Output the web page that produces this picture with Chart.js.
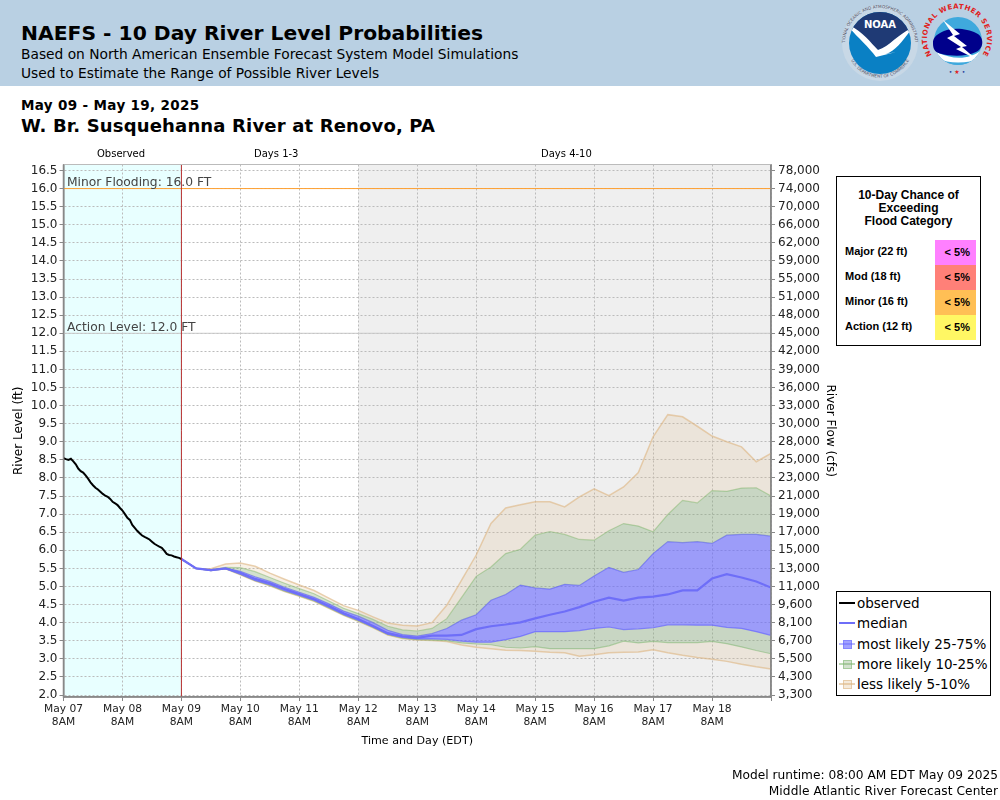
<!DOCTYPE html>
<html>
<head>
<meta charset="utf-8">
<title>NAEFS - 10 Day River Level Probabilities</title>
<script src="https://cdn.jsdelivr.net/npm/chart.js@4"></script>
<style>
  html, body { margin: 0; padding: 0; background: #fff; }
  body { width: 1000px; height: 800px; position: relative; overflow: hidden; font-family: "DejaVu Sans", sans-serif; color: #000; }
  .abs { position: absolute; white-space: nowrap; }
  #banner { left: 0; top: 0; width: 1000px; height: 86px; background: #b9d0e3; }
  #chart { position: absolute; left: 0; top: 0; }
  #flood { left: 836px; top: 176px; width: 143px; height: 168px; border: 1.5px solid #000; background: #fff; font-family: "Liberation Sans", Arial, sans-serif; font-weight: bold; }
  #floodTitle { position: absolute; left: 0; width: 100%; top: 12px; text-align: center; font-size: 12px; line-height: 13px; white-space: pre-line; }
  .floodLabel { position: absolute; left: 8px; font-size: 11px; line-height: 25px; }
  .floodCell { position: absolute; left: 98px; width: 41px; height: 25px; font-size: 11px; line-height: 24px; text-align: right; box-sizing: border-box; padding-right: 6px; }
  #legend { left: 835.5px; top: 591px; width: 153.5px; height: 103px; border: 1.5px solid #000; background: #fff; }
  .legendRow { position: absolute; left: 20.5px; font-size: 13.5px; line-height: 20px; }
  .legendLine { position: absolute; left: 2px; width: 16px; height: 2px; }
  .legendBox { position: absolute; left: 6px; width: 7px; height: 7px; border: 1px solid; }
</style>
</head>
<body>
<div id="banner" class="abs"></div>
<div class="abs" style="left:21px;top:21px;font-size:20.3px;font-weight:bold;">NAEFS - 10 Day River Level Probabilities</div>
<div class="abs" style="left:21px;top:46px;font-size:13.77px;">Based on North American Ensemble Forecast System Model Simulations</div>
<div class="abs" style="left:21px;top:65px;font-size:13.77px;">Used to Estimate the Range of Possible River Levels</div>
<div class="abs" style="left:21px;top:97px;font-size:13.5px;font-weight:bold;letter-spacing:.35px;">May 09 - May 19, 2025</div>
<div class="abs" style="left:21px;top:115px;font-size:18px;font-weight:bold;letter-spacing:.16px;">W. Br. Susquehanna River at Renovo, PA</div>

<svg class="abs" style="left:840px;top:0" width="80" height="86" viewBox="0 0 80 86">
  <defs>
    <path id="noaaTop" d="M5 43 A35 35 0 0 1 75 43"/>
    <path id="noaaBottom" d="M9 56 A33 33 0 0 0 71 56"/>
    <clipPath id="noaaClip"><circle cx="40" cy="43" r="31"/></clipPath>
  </defs>
  <circle cx="40" cy="43" r="38" fill="#c8d8e6"/>
  <circle cx="40" cy="43" r="31" fill="#0a80c4"/>
  <g clip-path="url(#noaaClip)">
    <path d="M5 5 H75 V30 C60 30 50 48 38 50 C30 46 22 32 5 26 Z" fill="#1f3a75"/>
    <path d="M6 24 C22 30 30 42 38 50 C50 46 58 34 72 28 C62 42 56 50 46 54 L56 52 L36 57 C28 46 16 36 6 24 Z" fill="#fff"/>
  </g>
  <text x="40" y="28" text-anchor="middle" font-size="10" font-weight="bold" fill="#fff" font-family="DejaVu Sans">NOAA</text>
  <text font-size="4.2" fill="#556" font-family="DejaVu Sans"><textPath href="#noaaTop" startOffset="50%" text-anchor="middle">NATIONAL OCEANIC AND ATMOSPHERIC ADMINISTRATION</textPath></text>
  <text font-size="4.2" fill="#556" font-family="DejaVu Sans"><textPath href="#noaaBottom" startOffset="50%" text-anchor="middle">U.S. DEPARTMENT OF COMMERCE</textPath></text>
</svg>
<svg class="abs" style="left:920px;top:0" width="80" height="86" viewBox="0 0 80 86">
  <defs>
    <path id="nwsRing" d="M14 58 A30 30 0 1 1 60 58"/>
    <clipPath id="nwsClip"><circle cx="38" cy="41" r="24"/></clipPath>
  </defs>
  <circle cx="38" cy="41" r="24" fill="#3fa9dd"/>
  <g clip-path="url(#nwsClip)">
    <path d="M12 56 H64 V66 H12 Z" fill="#3fa9dd"/>
    <path d="M16 52 C34 60 48 60 62 50 L62 58 C46 64 30 64 16 58 Z" fill="#fff"/>
  </g>
  <path d="M13 44 C12 36 20 33 24 31 C34 27 48 29 56 33 C64 36 65 48 56 52 C46 57 30 56 22 54 C16 53 13 50 13 44 Z" fill="#00008b"/>
  <path d="M23 20 L40 34 L34 36 L47 46 L42 47 L56 59 L36 49 L41 47 L27 38 L33 35 Z" fill="#fff"/>
  <text font-size="7" font-weight="bold" fill="#e02020" font-family="DejaVu Sans" letter-spacing=".5"><textPath href="#nwsRing" startOffset="50%" text-anchor="middle">NATIONAL WEATHER SERVICE</textPath></text>
  <text x="37" y="74" text-anchor="middle" font-size="6" font-family="DejaVu Sans"><tspan fill="#1f3a9a">•</tspan><tspan fill="#e02020" dx="2">★</tspan><tspan fill="#1f3a9a" dx="2">•</tspan></text>
</svg>

<canvas id="chart" width="1000" height="800" style="width:1000px;height:800px"></canvas>

<div class="abs" style="left:97px;top:148px;font-size:10px;">Observed</div>
<div class="abs" style="left:254px;top:148px;font-size:10px;">Days 1-3</div>
<div class="abs" style="left:541px;top:148px;font-size:10px;">Days 4-10</div>

<div id="flood" class="abs"><div id="floodTitle"></div></div>
<div id="legend" class="abs"></div>

<div class="abs" style="right:2px;top:768px;font-size:12.2px;">Model runtime: 08:00 AM EDT May 09 2025</div>
<div class="abs" style="right:2px;top:784px;font-size:12.2px;letter-spacing:.08px;">Middle Atlantic River Forecast Center</div>

<script>
const observedHours = [0,1,2,3,4,5,6,7,8,9,10,11,12,13,14,15,16,17,18,19,20,21,22,23,24,25,26,27,28,29,30,31,32,33,34,35,36,37,38,39,40,41,42,43,44,45,46,47,48];
const observed = [8.55,8.52,8.50,8.53,8.46,8.38,8.26,8.19,8.15,8.07,7.98,7.88,7.80,7.73,7.68,7.62,7.56,7.51,7.48,7.42,7.34,7.30,7.25,7.17,7.10,7.00,6.90,6.84,6.70,6.62,6.54,6.47,6.41,6.37,6.34,6.30,6.24,6.18,6.14,6.10,6.07,5.99,5.90,5.87,5.86,5.83,5.81,5.79,5.76];

const forecastHours = [48,54,60,66,72,78,84,90,96,102,108,114,120,126,132,138,144,150,156,162,168,174,180,186,192,198,204,210,216,222,228,234,240,246,252,258,264,270,276,282,288];
const p95 = [5.76,5.50,5.49,5.62,5.65,5.56,5.37,5.20,5.04,4.89,4.68,4.47,4.34,4.16,3.99,3.93,3.91,4.00,4.48,5.17,5.87,6.74,7.17,7.26,7.34,7.34,7.20,7.48,7.70,7.51,7.75,8.15,9.14,9.75,9.69,9.43,9.16,9.00,8.86,8.45,8.68];
const p90 = [5.76,5.50,5.47,5.53,5.52,5.41,5.25,5.09,4.94,4.80,4.60,4.40,4.25,4.09,3.90,3.80,3.77,3.84,4.11,4.69,5.28,5.54,5.91,6.03,6.42,6.52,6.44,6.30,6.28,6.54,6.74,6.67,6.51,6.99,7.38,7.31,7.65,7.63,7.72,7.73,7.50];
const p75 = [5.76,5.50,5.46,5.51,5.42,5.27,5.14,4.98,4.84,4.70,4.52,4.32,4.18,4.00,3.79,3.67,3.63,3.70,3.84,4.07,4.22,4.62,4.78,5.04,4.96,4.93,5.06,5.03,5.29,5.53,5.39,5.47,5.91,6.24,6.21,6.24,6.19,6.42,6.44,6.44,6.39];
const median = [5.76,5.50,5.45,5.50,5.38,5.21,5.09,4.93,4.79,4.65,4.46,4.26,4.10,3.91,3.71,3.62,3.58,3.64,3.64,3.66,3.82,3.90,3.95,4.01,4.12,4.22,4.31,4.43,4.58,4.69,4.61,4.69,4.72,4.78,4.89,4.89,5.22,5.34,5.25,5.14,4.97];
const p25 = [5.76,5.50,5.44,5.49,5.34,5.17,5.05,4.89,4.76,4.62,4.43,4.23,4.07,3.88,3.68,3.59,3.55,3.55,3.54,3.49,3.46,3.46,3.53,3.62,3.75,3.75,3.75,3.78,3.84,3.88,3.81,3.83,3.86,3.94,3.94,3.93,3.93,3.87,3.84,3.75,3.65];
const p10 = [5.76,5.50,5.44,5.49,5.33,5.16,5.03,4.87,4.74,4.60,4.41,4.21,4.05,3.87,3.67,3.57,3.53,3.52,3.50,3.44,3.41,3.39,3.32,3.30,3.34,3.28,3.28,3.28,3.28,3.36,3.49,3.44,3.48,3.45,3.45,3.45,3.48,3.42,3.33,3.23,3.14];
const p5 = [5.76,5.50,5.44,5.49,5.32,5.15,5.02,4.86,4.73,4.59,4.40,4.20,4.04,3.86,3.66,3.56,3.52,3.51,3.48,3.38,3.32,3.28,3.24,3.23,3.21,3.18,3.17,3.07,3.11,3.17,3.18,3.19,3.25,3.17,3.10,3.04,2.99,2.93,2.85,2.78,2.72];

const levelTicks = [2,2.5,3,3.5,4,4.5,5,5.5,6,6.5,7,7.5,8,8.5,9,9.5,10,10.5,11,11.5,12,12.5,13,13.5,14,14.5,15,15.5,16,16.5];
const flowLabels = ["3,300","4,300","5,500","6,700","8,100","9,600","11,000","13,000","15,000","17,000","19,000","21,000","23,000","25,000","28,000","30,000","33,000","36,000","39,000","42,000","45,000","48,000","51,000","55,000","59,000","62,000","66,000","70,000","74,000","78,000"];
const hourTicks = [0,24,48,72,96,120,144,168,192,216,240,264,288];
const dayLabels = ["May 07","May 08","May 09","May 10","May 11","May 12","May 13","May 14","May 15","May 16","May 17","May 18"];

const floodNames = ["Major (22 ft)","Mod (18 ft)","Minor (16 ft)","Action (12 ft)"];
const floodChances = ["< 5%","< 5%","< 5%","< 5%"];
const floodColors = ["#ff80ff","#ff8078","#ffbf55","#fff764"];

const TAN_FILL = "rgba(222,184,135,0.2)", TAN_EDGE = "rgba(222,184,135,0.65)";
const GREEN_FILL = "rgba(130,170,115,0.35)", GREEN_EDGE = "rgba(130,185,115,0.55)";
const BLUE_FILL = "rgba(100,100,255,0.6)", BLUE_EDGE = "rgba(100,100,255,0.7)";
const MEDIAN_COLOR = "#6e6ef8";

// x is hours since May 07 8AM
function toPoints(hours, values) {
  return values.map((v, i) => ({ x: hours[i], y: v }));
}

function band(label, values, edge, width, fillColor) {
  return {
    label,
    data: toPoints(forecastHours, values),
    borderColor: edge,
    borderWidth: width,
    backgroundColor: fillColor || "transparent",
    fill: fillColor ? "+1" : false,
    pointRadius: 0,
    tension: 0
  };
}

// shaded day regions, level lines and their captions
const decorations = {
  id: "decorations",
  beforeDatasetsDraw(chart) {
    const { ctx, chartArea: a, scales: { x } } = chart;
    ctx.save();
    ctx.globalCompositeOperation = "destination-over";
    ctx.fillStyle = "#e8ffff";
    ctx.fillRect(x.getPixelForValue(0), a.top, x.getPixelForValue(48) - x.getPixelForValue(0), a.height);
    ctx.fillStyle = "#efefef";
    ctx.fillRect(x.getPixelForValue(120), a.top, x.getPixelForValue(288) - x.getPixelForValue(120), a.height);
    ctx.restore();
  },
  afterDatasetsDraw(chart) {
    const { ctx, chartArea: a, scales: { x, y } } = chart;
    ctx.save();
    ctx.lineWidth = 1;
    ctx.strokeStyle = "#ffa030";
    ctx.beginPath(); ctx.moveTo(a.left, y.getPixelForValue(16)); ctx.lineTo(a.right, y.getPixelForValue(16)); ctx.stroke();
    ctx.strokeStyle = "#c8c8c8";
    ctx.beginPath(); ctx.moveTo(a.left, y.getPixelForValue(12)); ctx.lineTo(a.right, y.getPixelForValue(12)); ctx.stroke();
    ctx.strokeStyle = "#b83030";
    ctx.beginPath(); ctx.moveTo(x.getPixelForValue(48), a.top); ctx.lineTo(x.getPixelForValue(48), a.bottom); ctx.stroke();
    ctx.strokeStyle = "#bbb";
    ctx.beginPath(); ctx.moveTo(a.left, a.top); ctx.lineTo(a.right, a.top); ctx.stroke();
    ctx.strokeStyle = "#888";
    ctx.lineWidth = 1.5;
    ctx.beginPath(); ctx.moveTo(a.left, a.top); ctx.lineTo(a.left, a.bottom); ctx.lineTo(a.right, a.bottom); ctx.lineTo(a.right, a.top); ctx.stroke();
    ctx.fillStyle = "#444";
    ctx.font = '12.3px "DejaVu Sans"';
    ctx.textBaseline = "alphabetic";
    ctx.fillText("Minor Flooding: 16.0 FT", a.left + 3.5, y.getPixelForValue(16) - 2.5);
    ctx.fillText("Action Level: 12.0 FT", a.left + 3.5, y.getPixelForValue(12) - 2.5);
    ctx.restore();
  }
};

new Chart(document.getElementById("chart"), {
  type: "line",
  data: {
    datasets: [
      { label: "observed", data: toPoints(observedHours, observed), borderColor: "#000", borderWidth: 2, pointRadius: 0, tension: 0, fill: false },
      { label: "median", data: toPoints(forecastHours, median), borderColor: MEDIAN_COLOR, borderWidth: 2.2, pointRadius: 0, tension: 0, fill: false },
      band("95", p95, TAN_EDGE, 1.5, TAN_FILL),
      band("90", p90, GREEN_EDGE, 1.2, GREEN_FILL),
      band("75", p75, BLUE_EDGE, 1.2, BLUE_FILL),
      band("25", p25, BLUE_EDGE, 1.2, GREEN_FILL),
      band("10", p10, GREEN_EDGE, 1.2, TAN_FILL),
      band("5", p5, TAN_EDGE, 1.5)
    ]
  },
  options: {
    responsive: false,
    animation: false,
    devicePixelRatio: 1,
    layout: { padding: { top: 164.5, right: 163, bottom: 52, left: 0 } },
    plugins: { legend: { display: false }, tooltip: { enabled: false } },
    scales: {
      x: {
        type: "linear",
        min: 0,
        max: 288,
        afterBuildTicks: (s) => { s.ticks = hourTicks.map((v) => ({ value: v })); },
        afterFit: (s) => { s.height = 51; },
        ticks: {
          maxRotation: 0,
          autoSkip: false,
          padding: 2,
          color: "#222",
          font: { family: "DejaVu Sans", size: 10.7 },
          callback: (v) => (dayLabels[v / 24] ? [dayLabels[v / 24], "8AM"] : "")
        },
        grid: { color: "#bbb", tickColor: "#888", tickLength: 4 },
        border: { color: "#888", width: 1.5, dash: [2, 2] },
        title: { display: true, text: "Time and Day (EDT)", color: "#000", font: { family: "DejaVu Sans", size: 11.1 }, padding: { top: 6, bottom: 0 } }
      },
      y: {
        min: 1.945,
        max: 16.666,
        afterBuildTicks: (s) => { s.ticks = levelTicks.map((v) => ({ value: v })); },
        afterFit: (s) => { s.width = 63.5; },
        ticks: { autoSkip: false, padding: 2, color: "#222", font: { family: "DejaVu Sans", size: 12 }, callback: (v) => v.toFixed(1) },
        grid: { color: "#bbb", tickColor: "#888", tickLength: 4 },
        border: { color: "#888", width: 1.5, dash: [2, 2] },
        title: { display: true, text: "River Level (ft)", color: "#000", font: { family: "DejaVu Sans", size: 12 }, padding: { top: 12, bottom: 0 } }
      },
      y1: {
        position: "right",
        min: 1.945,
        max: 16.666,
        afterBuildTicks: (s) => { s.ticks = levelTicks.map((v) => ({ value: v })); },
        afterFit: (s) => { s.width = 66; },
        ticks: { autoSkip: false, padding: 3, color: "#222", font: { family: "DejaVu Sans", size: 12 }, callback: (v) => flowLabels[levelTicks.indexOf(v)] },
        grid: { drawOnChartArea: false, tickColor: "#888", tickLength: 4 },
        border: { color: "#888", width: 1.5 },
        title: { display: true, text: "River Flow (cfs)", color: "#000", font: { family: "DejaVu Sans", size: 12 }, padding: { top: 0, bottom: 6 } }
      }
    }
  },
  plugins: [decorations]
});

// flood category table
const flood = document.getElementById("flood");
document.getElementById("floodTitle").textContent = "10-Day Chance of\nExceeding\nFlood Category";
floodNames.forEach((name, i) => {
  const label = document.createElement("div");
  label.className = "floodLabel";
  label.style.top = (62 + i * 25) + "px";
  label.textContent = name;
  flood.appendChild(label);
  const cell = document.createElement("div");
  cell.className = "floodCell";
  cell.style.top = (63 + i * 25) + "px";
  cell.style.background = floodColors[i];
  cell.textContent = floodChances[i];
  flood.appendChild(cell);
});

// legend
const legendNames = ["observed", "median", "most likely 25-75%", "more likely 10-25%", "less likely 5-10%"];
const legendLines = ["#000", MEDIAN_COLOR, "rgba(100,100,255,0.45)", "rgba(130,185,115,0.55)", "rgba(222,184,135,0.6)"];
const legendBoxes = [null, null, BLUE_FILL, GREEN_FILL, "rgba(222,184,135,0.3)"];
const legend = document.getElementById("legend");
legendNames.forEach((name, i) => {
  const top = 1 + i * 20.3;
  const line = document.createElement("div");
  line.className = "legendLine";
  line.style.top = (top + 9) + "px";
  line.style.background = legendLines[i];
  legend.appendChild(line);
  if (legendBoxes[i]) {
    const box = document.createElement("div");
    box.className = "legendBox";
    box.style.top = (top + 6) + "px";
    box.style.background = legendBoxes[i];
    box.style.borderColor = legendLines[i];
    legend.appendChild(box);
  }
  const row = document.createElement("div");
  row.className = "legendRow";
  row.style.top = top + "px";
  row.textContent = name;
  legend.appendChild(row);
});
</script>
</body>
</html>
